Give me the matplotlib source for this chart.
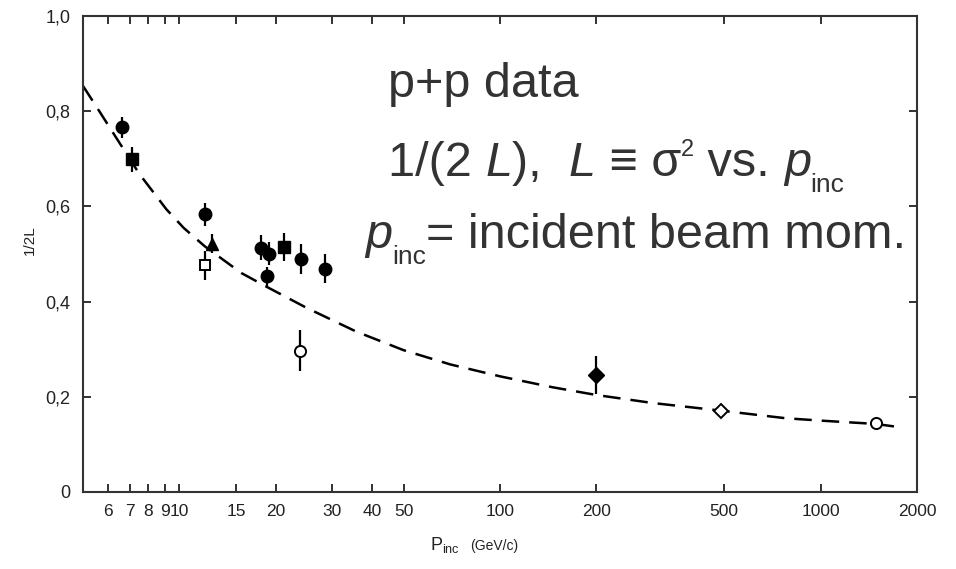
import matplotlib
matplotlib.use("Agg")
import matplotlib.pyplot as plt
from matplotlib.ticker import FixedLocator, FixedFormatter, NullLocator
from matplotlib.font_manager import FontProperties

plt.rcParams['mathtext.fontset'] = 'custom'
plt.rcParams['mathtext.rm'] = 'Liberation Sans'
plt.rcParams['mathtext.it'] = 'Liberation Sans:italic'

# ---- data ----
filled_circle_x = [6.6, 12.05, 17.9, 19.0, 18.8, 24.0, 28.5]
filled_circle_y = [0.766, 0.583, 0.513, 0.501, 0.453, 0.490, 0.469]
filled_circle_err = [0.022, 0.025, 0.026, 0.025, 0.020, 0.032, 0.030]

filled_square_x = [7.1, 21.2]
filled_square_y = [0.699, 0.515]
filled_square_err = [0.026, 0.030]

filled_triangle_x = [12.65]
filled_triangle_y = [0.522]
filled_triangle_err = [0.020]

filled_diamond_x = [199]
filled_diamond_y = [0.246]
filled_diamond_err = [0.040]

open_square_x = [12.05]
open_square_y = [0.476]
open_square_err = [0.030]

open_circle_x = [23.8, 1485]
open_circle_y = [0.297, 0.146]
open_circle_err = [0.043, 0.0]

open_diamond_x = [488]
open_diamond_y = [0.171]

curve_x = [5.0, 5.5, 6.2, 7.5, 9.1, 10.3, 12.0, 15.6, 18.6, 24.9, 35.6, 50, 70, 100,
           146, 199, 299, 488, 778, 1000, 1485, 1730]
curve_y = [0.853, 0.810, 0.755, 0.668, 0.594, 0.555, 0.516, 0.460, 0.432, 0.387, 0.337,
           0.298, 0.268, 0.243, 0.220, 0.204, 0.187, 0.171, 0.155, 0.150, 0.143, 0.137]

x_ticks = [6, 7, 8, 9, 10, 15, 20, 30, 40, 50, 100, 200, 500, 1000, 2000]
x_tick_labels = ['6', '7', '8', '9', '10', '15', '20', '30', '40', '50', '100', '200',
                 '500', '1000', '2000']
y_ticks = [0, 0.2, 0.4, 0.6, 0.8, 1.0]
y_tick_labels = ['0', '0,2', '0,4', '0,6', '0,8', '1,0']

# ---- figure ----
W, H = 956, 569
fig = plt.figure(figsize=(W / 100, H / 100), dpi=100)
ax = fig.add_axes([83 / W, 77 / H, 834 / W, 476 / H])
ax.set_xscale('log')
ax.set_xlim(5, 2000)
ax.set_ylim(0, 1.0)

ax.plot(curve_x, curve_y, color='black', lw=1.8, dashes=(7, 4), zorder=2)

ms = 9
eb = dict(fmt='none', ecolor='black', elinewidth=1.6, capsize=0, zorder=3)
ax.errorbar(filled_circle_x, filled_circle_y, yerr=filled_circle_err, **eb)
ax.errorbar(filled_square_x, filled_square_y, yerr=filled_square_err, **eb)
ax.errorbar(filled_triangle_x, filled_triangle_y, yerr=filled_triangle_err, **eb)
ax.errorbar(filled_diamond_x, filled_diamond_y, yerr=filled_diamond_err, **eb)
ax.errorbar(open_square_x, open_square_y, yerr=open_square_err, **eb)
ax.errorbar(open_circle_x, open_circle_y, yerr=open_circle_err, **eb)

ax.plot(filled_circle_x, filled_circle_y, 'o', ms=ms, color='black', zorder=4)
ax.plot(filled_square_x, filled_square_y, 's', ms=ms - 0.5, color='black', zorder=4)
ax.plot(filled_triangle_x, filled_triangle_y, '^', ms=ms, color='black', zorder=4)
ax.plot(filled_diamond_x, filled_diamond_y, 'D', ms=ms - 1, color='black', zorder=4)
ax.plot(open_square_x, open_square_y, 's', ms=ms - 1.5, mfc='white', mec='black',
        mew=1.4, zorder=4)
ax.plot(open_circle_x, open_circle_y, 'o', ms=ms - 1, mfc='white', mec='black',
        mew=1.4, zorder=4)
ax.plot(open_diamond_x, open_diamond_y, 'D', ms=ms - 2, mfc='white', mec='black',
        mew=1.4, zorder=4)

# ticks
ax.xaxis.set_major_locator(FixedLocator(x_ticks))
ax.xaxis.set_major_formatter(FixedFormatter(x_tick_labels))
ax.xaxis.set_minor_locator(NullLocator())
ax.yaxis.set_major_locator(FixedLocator(y_ticks))
ax.yaxis.set_major_formatter(FixedFormatter(y_tick_labels))
ax.tick_params(axis='both', which='major', direction='in', length=6, width=1.3,
               top=True, right=True, labelsize=12.5, colors='#222222')
ax.tick_params(axis='x', pad=9)
ax.tick_params(axis='y', pad=9, labelsize=13)
for lab in ax.get_xticklabels() + ax.get_yticklabels():
    lab.set_family('Liberation Sans')
for s in ax.spines.values():
    s.set_linewidth(1.5)
    s.set_color('#333333')

# axis labels
fig.text(30 / W, 1 - 240 / H, '1/2L', rotation=90, fontsize=11, ha='center',
         va='center', color='#222222', family='Liberation Sans')
fig.text(430 / W, 1 - 550 / H, r'P$_{\mathregular{inc}}$', fontsize=13,
         ha='left', va='baseline', color='#222222', family='Liberation Sans')
fig.text(470 / W, 1 - 550 / H, '(GeV/c)', fontsize=10, ha='left', va='baseline',
         color='#222222', family='Liberation Sans')

# annotation text, assembled from pieces so sub/superscripts can be small
FAM = ['Liberation Sans', 'DejaVu Sans']
renderer = fig.canvas.get_renderer()


def place(x0, base_from_top, pieces):
    x = x0
    for s, size, style, dy in pieces:
        fp = FontProperties(family=FAM, size=size, style=style)
        fig.text(x / W, 1 - (base_from_top - dy) / H, s, fontproperties=fp,
                 color='#333333', ha='left', va='baseline')
        w, _, _ = renderer.get_text_width_height_descent(s, fp, ismath=False)
        x += w


BIG, SUB, SUP = 35, 19, 17
place(388, 97, [('p+p data', BIG, 'normal', 0)])
place(388, 176, [('1/(2 ', BIG, 'normal', 0), ('L', BIG, 'italic', 0),
                 ('),  ', BIG, 'normal', 0), ('L', BIG, 'italic', 0),
                 (' ≡ σ', BIG, 'normal', 0), ('2', SUP, 'normal', 20),
                 (' vs. ', BIG, 'normal', 0), ('p', BIG, 'italic', 0),
                 ('inc', SUB, 'normal', -16)])
place(365, 248, [('p', BIG, 'italic', 0), ('inc', SUB, 'normal', -16),
                 ('= incident beam mom.', BIG, 'normal', 0)])

fig.savefig('out.png', dpi=100)
